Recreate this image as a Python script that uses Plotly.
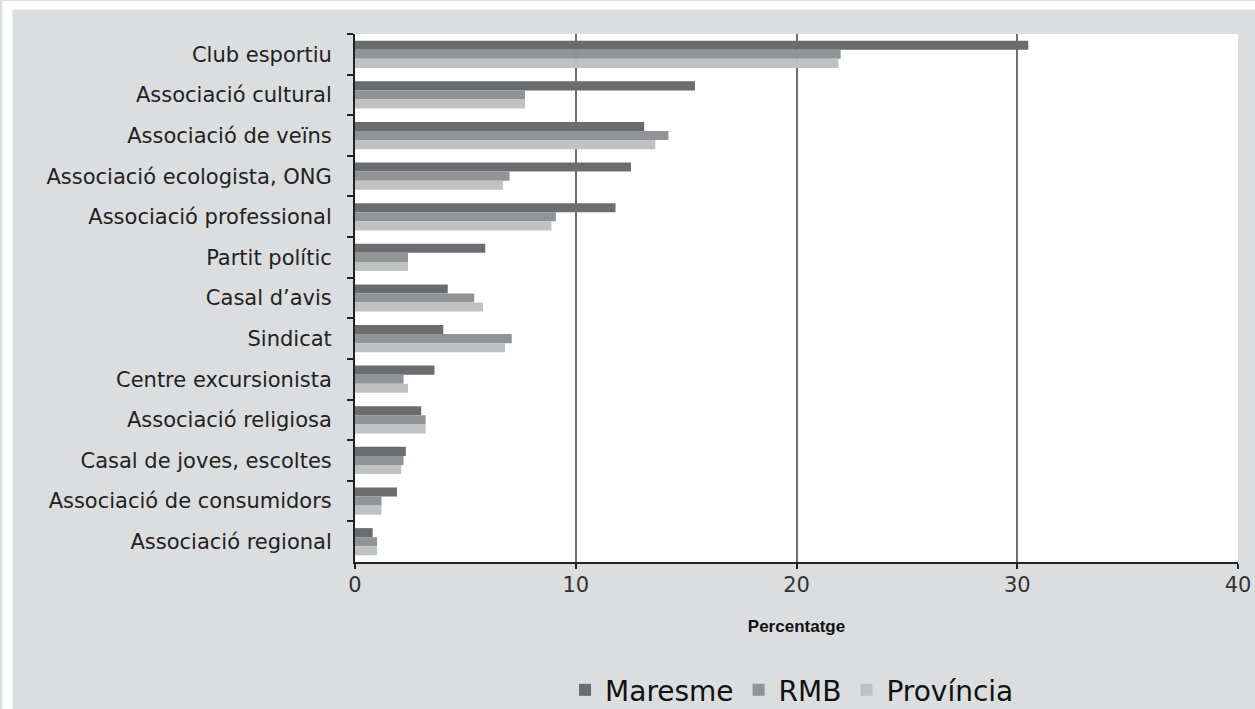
import plotly.graph_objects as go

categories = [
    "Club esportiu",
    "Associació cultural",
    "Associació de veïns",
    "Associació ecologista, ONG",
    "Associació professional",
    "Partit polític",
    "Casal d’avis",
    "Sindicat",
    "Centre excursionista",
    "Associació religiosa",
    "Casal de joves, escoltes",
    "Associació de consumidors",
    "Associació regional",
]
maresme = [30.5, 15.4, 13.1, 12.5, 11.8, 5.9, 4.2, 4.0, 3.6, 3.0, 2.3, 1.9, 0.8]
rmb = [22.0, 7.7, 14.2, 7.0, 9.1, 2.4, 5.4, 7.1, 2.2, 3.2, 2.2, 1.2, 1.0]
provincia = [21.9, 7.7, 13.6, 6.7, 8.9, 2.4, 5.8, 6.8, 2.4, 3.2, 2.1, 1.2, 1.0]
series_names = ["Maresme", "RMB", "Província"]
series_colors = ["#6b6c70", "#929397", "#c0c1c3"]
x_ticks = [0, 10, 20, 30, 40]

fig = go.Figure()
for name, vals, col in zip(series_names, [maresme, rmb, provincia], series_colors):
    fig.add_trace(go.Bar(y=categories, x=vals, name=name, orientation="h",
                         marker=dict(color=col, line=dict(width=0))))

# the captured page is rendered slightly scaled; work in page CSS pixels
SX, SY = 1263 / 1255, 727 / 709
W, H = 1263, 727
ml = round(353 * SX)
mt = round(33 * SY)
mr = W - round(1236 * SX)
mb = H - round(562 * SY)
pw, ph = W - ml - mr, H - mt - mb

def px_x(p):
    return (p * SX - ml) / pw

def px_y(p):
    return (H - mb - p * SY) / ph

fig.update_layout(
    width=W, height=H,
    margin=dict(l=ml, r=mr, t=mt, b=mb, pad=0),
    paper_bgcolor="#dcdddf",
    plot_bgcolor="#ffffff",
    barmode="group",
    bargap=0.33,
    bargroupgap=0,
    font=dict(family="DejaVu Sans", color="#222222"),
    showlegend=True,
    legend=dict(orientation="h", x=px_x(790), y=px_y(690), xanchor="center", yanchor="middle",
                font=dict(size=28, family="DejaVu Sans", color="#111111"),
                bgcolor="rgba(0,0,0,0)", itemwidth=30, tracegroupgap=0),
    shapes=[
        dict(type="rect", xref="paper", yref="paper", x0=px_x(0), x1=px_x(10), y0=px_y(709), y1=px_y(0),
             fillcolor="#ffffff", line=dict(width=0), layer="below"),
        dict(type="rect", xref="paper", yref="paper", x0=px_x(0), x1=px_x(1255), y0=px_y(9), y1=px_y(0),
             fillcolor="#ffffff", line=dict(width=0), layer="below"),
    ],
)
fig.update_xaxes(
    range=[0, 40], tickvals=x_ticks, ticktext=[str(t) for t in x_ticks],
    showgrid=True, gridcolor="#6e6e6e", gridwidth=1.5,
    showline=True, linecolor="#222222", linewidth=2,
    ticks="outside", ticklen=5, tickcolor="#222222", tickwidth=2,
    zeroline=False,
    tickfont=dict(size=21, family="DejaVu Sans", color="#333333"),
    ticklabelstandoff=-2,
    title=dict(text="<b>Percentatge</b>", standoff=24,
               font=dict(size=17, family="Liberation Sans", color="#111111")),
)
fig.update_yaxes(
    autorange="reversed", categoryorder="array", categoryarray=categories,
    showline=True, linecolor="#222222", linewidth=2,
    ticks="outside", tickson="boundaries", ticklen=6, tickcolor="#222222", tickwidth=2,
    showgrid=False, zeroline=False,
    tickfont=dict(size=21, family="DejaVu Sans", color="#222222"),
    ticklabelstandoff=17,
)

fig.write_html(
    "out.html",
    config={"displayModeBar": False},
    post_script=(
        "document.body.style.margin='0';"
        "document.documentElement.style.overflow='hidden';"
        "document.body.style.overflow='hidden';"
    ),
)
